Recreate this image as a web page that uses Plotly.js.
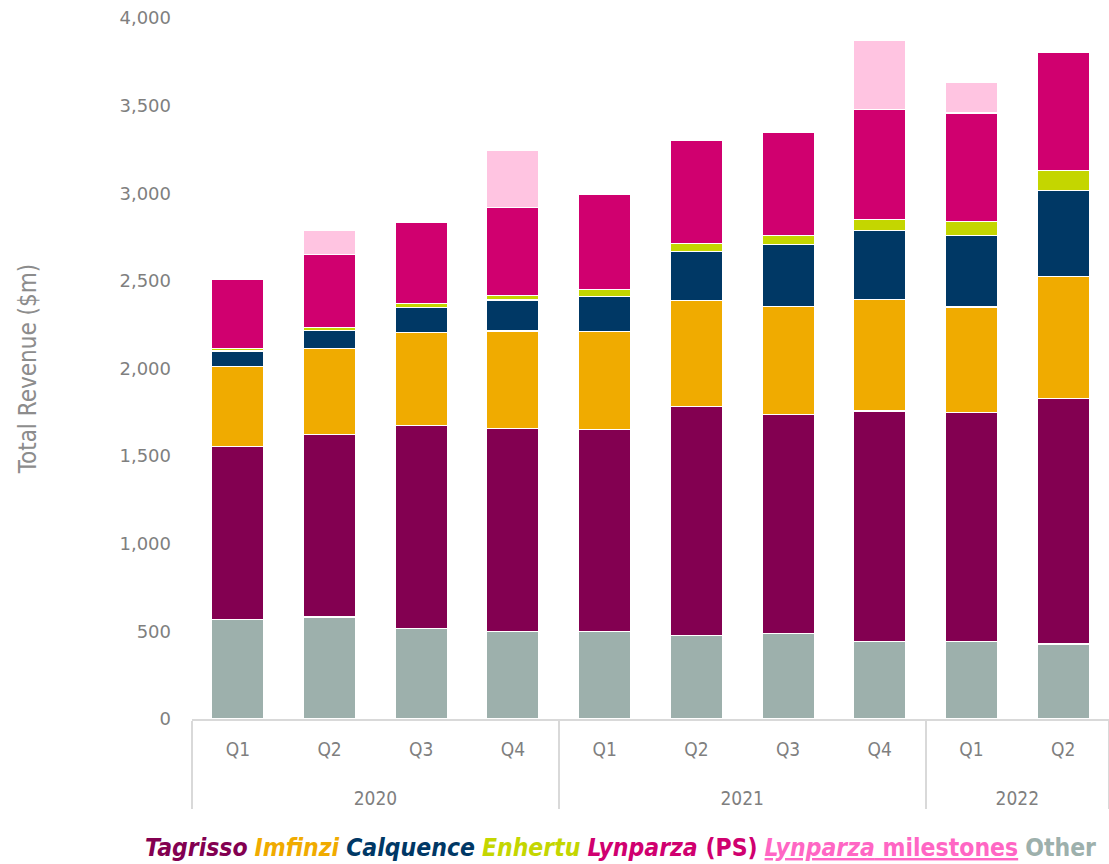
<!DOCTYPE html>
<html>
<head>
<meta charset="utf-8">
<script src="https://cdn.plot.ly/plotly-3.0.1.min.js"></script>
<style>
  html, body { margin: 0; padding: 0; background: #fff; }
  #chart { width: 1109px; height: 864px; }
</style>
</head>
<body>
<div id="chart"></div>
<script>
// quarterly revenue by product, $m
const years = ['2020', '2020', '2020', '2020', '2021', '2021', '2021', '2021', '2022', '2022'];
const quarters = ['Q1', 'Q2', 'Q3', 'Q4', 'Q1', 'Q2', 'Q3', 'Q4', 'Q1', 'Q2'];

const other      = [568, 582, 518, 500, 498, 476, 486, 441, 441, 428];
const tagrisso   = [985, 1040, 1159, 1157, 1152, 1308, 1250, 1317, 1308, 1402];
const imfinzi    = [460, 490, 530, 557, 561, 605, 616, 635, 602, 695];
const calquence  = [87, 103, 143, 177, 200, 280, 355, 394, 410, 490];
const enhertu    = [12, 17, 20, 26, 38, 45, 50, 63, 80, 114];
const lynparza   = [397, 420, 465, 500, 545, 590, 592, 627, 617, 672];
const milestones = [null, 134, null, 330, null, null, null, 398, 176, null];

// stacking order, bottom to top
const seriesNames = ['Other', 'Tagrisso', 'Imfinzi', 'Calquence', 'Enhertu', 'Lynparza (PS)', 'Lynparza milestones'];
const seriesValues = [other, tagrisso, imfinzi, calquence, enhertu, lynparza, milestones];
const seriesColors = ['#9DB0AC', '#830051', '#F0AB00', '#003865', '#C4D600', '#D0006F', '#FFC4E1'];

// legend row (drawn as text), left to right
const legendLabels = ['<i>Tagrisso</i>', '<i>Imfinzi</i>', '<i>Calquence</i>', '<i>Enhertu</i>',
  '<i>Lynparza</i> (PS)', '<span style="text-decoration:underline dotted"><i>Lynparza</i> milestones</span>', 'Other'];
const legendColors = ['#830051', '#F0AB00', '#003865', '#C4D600', '#D0006F', '#FF66C4', '#9DB0AC'];

// tall blank second line under each quarter pushes the year row further down
const quarterLabels = quarters.map(q => q + '<br><span style="font-size:51px">&nbsp;</span>');

const traces = seriesNames.map((name, i) => ({
  type: 'bar',
  name: name,
  x: [years, quarterLabels],
  y: seriesValues[i],
  marker: { color: seriesColors[i], line: { color: '#ffffff', width: 1.2 } },
  hovertemplate: name + ': %{y:,}<extra></extra>'
}));

const legendText = legendLabels
  .map((lbl, i) => '<span style="color:' + legendColors[i] + '"><b>' + lbl + '</b></span>')
  .join(' ');

const layout = {
  width: 1109,
  height: 864,
  margin: { l: 192, r: 0, t: 18, b: 145 },
  paper_bgcolor: '#ffffff',
  plot_bgcolor: '#ffffff',
  barmode: 'stack',
  bargap: 0.43,
  showlegend: false,
  font: { family: 'DejaVu Sans Condensed, sans-serif', color: '#7F7F7F' },
  xaxis: {
    type: 'multicategory',
    showline: true,
    linecolor: '#D9D9D9',
    linewidth: 1.5,
    showgrid: false,
    ticks: '',
    ticklabelstandoff: 12,
    showdividers: true,
    dividercolor: '#D9D9D9',
    dividerwidth: 1.5,
    tickfont: { family: 'DejaVu Sans Condensed, sans-serif', size: 19, color: '#7F7F7F' },
    range: [-0.5, 9.5]
  },
  yaxis: {
    range: [0, 4000],
    dtick: 500,
    tickformat: ',',
    showgrid: false,
    zeroline: false,
    showline: false,
    ticks: '',
    ticklabelstandoff: 20,
    tickfont: { family: 'DejaVu Sans, sans-serif', size: 18, color: '#7F7F7F' },
    title: {
      text: 'Total Revenue ($m)',
      font: { family: 'DejaVu Sans Condensed, sans-serif', size: 24, color: '#8C8C8C' },
      standoff: 76
    }
  },
  annotations: [{
    xref: 'paper', yref: 'paper',
    x: 0.467, y: -0.184,
    xanchor: 'center', yanchor: 'middle',
    showarrow: false,
    text: legendText,
    font: { family: 'DejaVu Sans Condensed, sans-serif', size: 24.5 }
  }]
};

Plotly.newPlot('chart', traces, layout, { displayModeBar: false });
</script>
</body>
</html>
